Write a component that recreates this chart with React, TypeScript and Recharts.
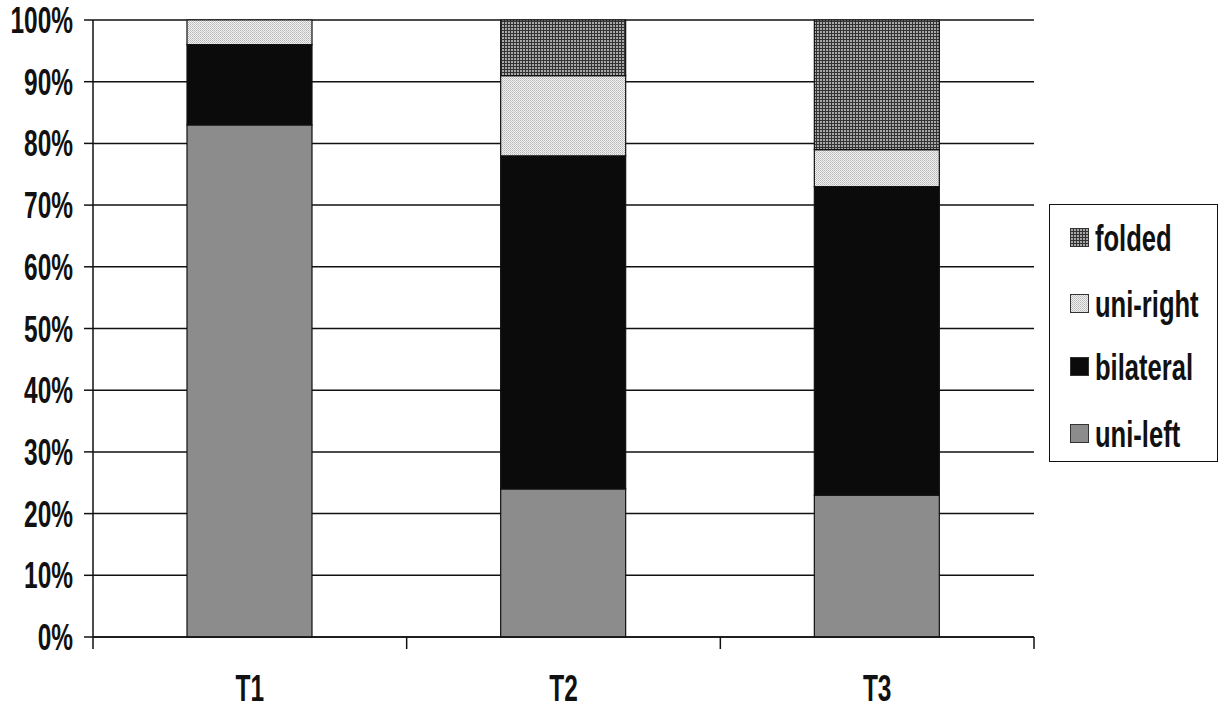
import { BarChart, Bar, XAxis, YAxis, CartesianGrid } from "recharts";

const categories = ["T1", "T2", "T3"];
const uniLeft = [83, 24, 23];
const bilateral = [13, 54, 50];
const uniRight = [4, 13, 6];
const folded = [0, 9, 21];
const yTicks = [0, 0.1, 0.2, 0.3, 0.4, 0.5, 0.6, 0.7, 0.8, 0.9, 1];

const series = [
  { key: "uniLeft", name: "uni-left", fill: "#8c8c8c" },
  { key: "bilateral", name: "bilateral", fill: "#0b0b0b" },
  { key: "uniRight", name: "uni-right", fill: "url(#dotsLight)" },
  { key: "folded", name: "folded", fill: "url(#gridDark)" },
];

const chartData = categories.map((name, i) => ({
  name,
  uniLeft: uniLeft[i],
  bilateral: bilateral[i],
  uniRight: uniRight[i],
  folded: folded[i],
}));

const W = 1226;
const H = 711;
const margin = { top: 20, right: 192, left: 0, bottom: 14 };
const yAxisWidth = 93;
const band = (W - margin.right - margin.left - yAxisWidth) / categories.length;
// narrow bold look: Liberation Sans squeezed horizontally
const font = "'Liberation Sans', Arial, sans-serif";
const squeeze = 0.68;

const YTick = ({ x, y, payload }: any) => (
  <text
    transform={`translate(${x - 9},${y + 13}) scale(${squeeze},1)`}
    textAnchor="end"
    fontFamily={font}
    fontWeight="bold"
    fontSize={36}
    fill="#111"
  >
    {`${Math.round(payload.value * 100)}%`}
  </text>
);

const XTick = ({ x, y, payload, index }: any) => (
  <g>
    <line x1={x - band / 2} x2={x - band / 2} y1={y} y2={y + 12} stroke="#111" strokeWidth={1.5} />
    {index === categories.length - 1 && (
      <line x1={x + band / 2} x2={x + band / 2} y1={y} y2={y + 12} stroke="#111" strokeWidth={1.5} />
    )}
    <text
      transform={`translate(${x},${y + 64}) scale(${squeeze},1)`}
      textAnchor="middle"
      fontFamily={font}
      fontWeight="bold"
      fontSize={36}
      fill="#111"
    >
      {payload.value}
    </text>
  </g>
);

const legendItems = [...series].reverse();
const legendRowCenters = [34, 100, 163, 230];

export default function App() {
  return (
    <div style={{ position: "absolute", left: 0, top: 0, width: W, height: H, background: "#fff" }}>
      <BarChart width={W} height={H} data={chartData} margin={margin} stackOffset="expand">
        <defs>
          <pattern id="gridDark" width="3" height="3" patternUnits="userSpaceOnUse">
            <rect width="3" height="3" fill="#a8a8a8" />
            <rect width="3" height="1" fill="#333" />
            <rect width="1" height="3" fill="#333" />
          </pattern>
          <pattern id="dotsLight" width="2" height="2" patternUnits="userSpaceOnUse">
            <rect width="2" height="2" fill="#f2f2f2" />
            <rect width="1" height="1" fill="#b4b4b4" />
            <rect x="1" y="1" width="1" height="1" fill="#c8c8c8" />
          </pattern>
        </defs>
        <CartesianGrid vertical={false} stroke="#111" strokeWidth={1.5} />
        <XAxis
          dataKey="name"
          tickLine={false}
          tickSize={0}
          tickMargin={0}
          axisLine={{ stroke: "#111", strokeWidth: 1.5 }}
          tick={<XTick />}
          height={60}
          interval={0}
        />
        <YAxis
          width={yAxisWidth}
          domain={[0, 1]}
          ticks={yTicks}
          tickSize={9}
          tickLine={{ stroke: "#111", strokeWidth: 1.5 }}
          axisLine={{ stroke: "#111", strokeWidth: 1.5 }}
          tick={<YTick />}
          interval={0}
        />
        {series.map((s) => (
          <Bar
            key={s.key}
            dataKey={s.key}
            name={s.name}
            stackId="a"
            fill={s.fill}
            stroke="#111"
            strokeWidth={1.2}
            barSize={125}
            isAnimationActive={false}
          />
        ))}
      </BarChart>
      <div
        style={{
          position: "absolute",
          left: 1049,
          top: 204,
          width: 169,
          height: 258,
          border: "1.5px solid #111",
          boxSizing: "border-box",
          fontFamily: font,
          fontWeight: "bold",
          fontSize: 36,
          color: "#111",
        }}
      >
        {legendItems.map((s, i) => (
          <div
            key={s.key}
            style={{
              position: "absolute",
              left: 20,
              top: legendRowCenters[i] - 20,
              height: 40,
              display: "flex",
              alignItems: "center",
              whiteSpace: "nowrap",
            }}
          >
            <svg width={19} height={19} style={{ marginRight: 6, marginTop: -4 }}>
              <rect x={0.5} y={0.5} width={18} height={18} fill={s.fill} stroke="#333" />
            </svg>
            <span style={{ display: "inline-block", transform: "scaleX(0.71)", transformOrigin: "left center" }}>
              {s.name}
            </span>
          </div>
        ))}
      </div>
    </div>
  );
}
